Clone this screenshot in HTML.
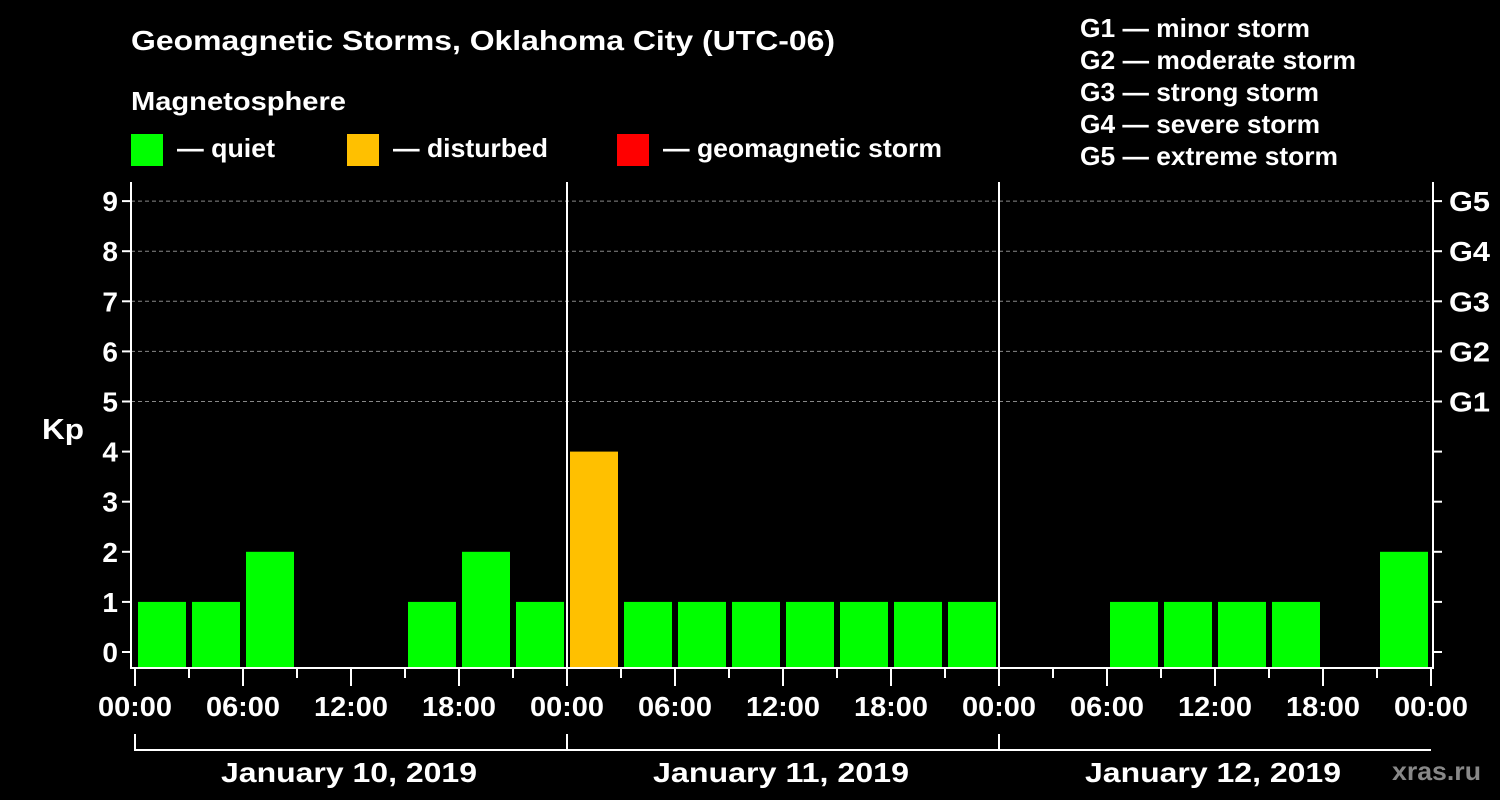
<!DOCTYPE html>
<html><head><meta charset="utf-8"><style>
body{margin:0;background:#000;}
svg{display:block;font-family:"Liberation Sans",Arial,sans-serif;font-weight:bold;}
</style></head><body>
<svg id="chart" width="1500" height="800" viewBox="0 0 1500 800">
<rect width="1500" height="800" fill="#000"/>
<text x="131" y="50" fill="#fff" font-size="28" textLength="704" lengthAdjust="spacingAndGlyphs">Geomagnetic Storms, Oklahoma City (UTC-06)</text>
<text x="131" y="110" fill="#fff" font-size="26" textLength="215" lengthAdjust="spacingAndGlyphs">Magnetosphere</text>
<g><rect x="131" y="134" width="32" height="32" fill="#00ff00"/><text x="177" y="157" fill="#fff" font-size="26" textLength="98" lengthAdjust="spacingAndGlyphs">— quiet</text></g>
<g><rect x="347" y="134" width="32" height="32" fill="#ffc000"/><text x="393" y="157" fill="#fff" font-size="26" textLength="155" lengthAdjust="spacingAndGlyphs">— disturbed</text></g>
<g><rect x="617" y="134" width="32" height="32" fill="#ff0000"/><text x="663" y="157" fill="#fff" font-size="26" textLength="279" lengthAdjust="spacingAndGlyphs">— geomagnetic storm</text></g>
<g fill="#fff" font-size="26">
<text x="1080" y="37" textLength="230" lengthAdjust="spacingAndGlyphs">G1 — minor storm</text>
<text x="1080" y="69" textLength="276" lengthAdjust="spacingAndGlyphs">G2 — moderate storm</text>
<text x="1080" y="101" textLength="239" lengthAdjust="spacingAndGlyphs">G3 — strong storm</text>
<text x="1080" y="133" textLength="240" lengthAdjust="spacingAndGlyphs">G4 — severe storm</text>
<text x="1080" y="165" textLength="258" lengthAdjust="spacingAndGlyphs">G5 — extreme storm</text>
</g>
<text x="42" y="439" fill="#fff" font-size="29" textLength="42" lengthAdjust="spacingAndGlyphs">Kp</text>
<text x="1392" y="780" fill="#888" font-size="26" textLength="89" lengthAdjust="spacingAndGlyphs">xras.ru</text>
<g id="grid"></g><g id="bars"></g><g id="axes"></g>
</svg>
<script>
const kpValues = [1,1,2,0,0,1,2,1, 4,1,1,1,1,1,1,1, 0,0,1,1,1,1,0,2];
const yTicks = [0,1,2,3,4,5,6,7,8,9];
const gLabels = ["G1","G2","G3","G4","G5"];
const dayLabels = ["January 10, 2019","January 11, 2019","January 12, 2019"];
const hourLabels = ["00:00","06:00","12:00","18:00"];

const NS="http://www.w3.org/2000/svg";
const X0=135, DAYW=432, SLOT=54, Y0=652, UNIT=50.1, BOTTOM=668, TOP=182, LEFT=131, RIGHT=1433;
const x = i => X0 + i*SLOT;
const y = v => Y0 - v*UNIT;
function mk(tag, attrs, parent){const e=document.createElementNS(NS,tag);for(const k in attrs)e.setAttribute(k,attrs[k]);parent.appendChild(e);return e;}
const grid=document.getElementById('grid'), bars=document.getElementById('bars'), axes=document.getElementById('axes');

for(let k=5;k<=9;k++){
  const l=mk('line',{x1:LEFT,x2:RIGHT,y1:y(k),y2:y(k),stroke:'#888','stroke-dasharray':'4,3','stroke-width':1},grid);
  
  
}
kpValues.forEach((v,i)=>{
  if(v<=0) return;
  const col = v>=5?'#ff0000':(v>=4?'#ffc000':'#00ff00');
  const r=mk('rect',{x:x(i)+3,y:y(v),width:48,height:BOTTOM-1-y(v),fill:col},bars);
  
  
});
const fr=mk('path',{d:`M${LEFT} ${TOP} V${BOTTOM} H${RIGHT} V${TOP}`,fill:'none',stroke:'#fff','stroke-width':2},axes);


for(let d=1;d<3;d++){
  const l=mk('line',{x1:X0+d*DAYW,x2:X0+d*DAYW,y1:TOP,y2:BOTTOM,stroke:'#fff','stroke-width':2},axes);
  
  
}
yTicks.forEach(t=>{
  mk('line',{x1:LEFT-9,x2:LEFT,y1:y(t),y2:y(t),stroke:'#fff','stroke-width':2},axes);
  mk('line',{x1:RIGHT,x2:RIGHT+9,y1:y(t),y2:y(t),stroke:'#fff','stroke-width':2},axes);
  const tx=mk('text',{x:LEFT-13,y:y(t)+10,fill:'#fff','font-size':28,'text-anchor':'end'},axes);
  tx.textContent=t;
  
  
});
gLabels.forEach((g,i)=>{
  const tx=mk('text',{x:RIGHT+16,y:y(5+i)+10,fill:'#fff','font-size':28,textLength:41,lengthAdjust:'spacingAndGlyphs'},axes);
  tx.textContent=g;
  
  
});
for(let i=0;i<=24;i++){
  const major=i%2===0;
  mk('line',{x1:x(i),x2:x(i),y1:BOTTOM,y2:BOTTOM+(major?18:10),stroke:'#fff','stroke-width':2},axes);
  if(major){
    const tx=mk('text',{x:x(i),y:716,fill:'#fff','font-size':28,'text-anchor':'middle',textLength:74,lengthAdjust:'spacingAndGlyphs'},axes);
    tx.textContent=hourLabels[(i/2)%4];
    
    
  }
}
mk('path',{d:`M${X0} 734 V750 H${X0+3*DAYW}`,fill:'none',stroke:'#fff','stroke-width':2},axes);
for(let d=1;d<3;d++){ mk('line',{x1:X0+d*DAYW,x2:X0+d*DAYW,y1:734,y2:750,stroke:'#fff','stroke-width':2},axes); }
dayLabels.forEach((s,d)=>{
  const tx=mk('text',{x:X0+d*DAYW+DAYW/2-2,y:782,fill:'#fff','font-size':28,'text-anchor':'middle',textLength:256,lengthAdjust:'spacingAndGlyphs'},axes);
  tx.textContent=s;
  
  
});
</script>
</body></html>
